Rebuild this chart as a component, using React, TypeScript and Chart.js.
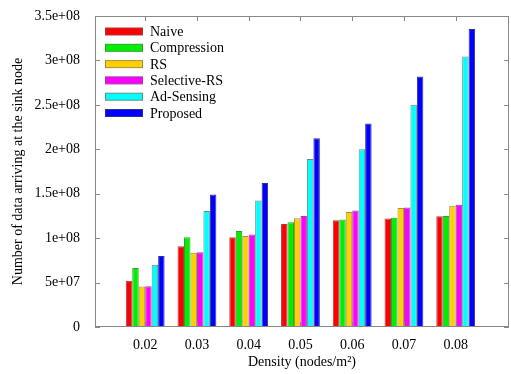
import React, { useEffect, useRef } from "react";
import { Chart, registerables } from "chart.js";

Chart.register(...registerables);

const densities = [0.02, 0.03, 0.04, 0.05, 0.06, 0.07, 0.08];
const seriesNames = ["Naive", "Compression", "RS", "Selective-RS", "Ad-Sensing", "Proposed"];
const naive = [5.2e7, 9.1e7, 1.01e8, 1.16e8, 1.2e8, 1.22e8, 1.245e8];
const compression = [6.65e7, 1.01e8, 1.08e8, 1.18e8, 1.21e8, 1.23e8, 1.25e8];
const rs = [4.55e7, 8.35e7, 1.025e8, 1.225e8, 1.295e8, 1.34e8, 1.365e8];
const selectiveRs = [4.6e7, 8.4e7, 1.04e8, 1.25e8, 1.31e8, 1.345e8, 1.375e8];
const adSensing = [7.0e7, 1.305e8, 1.425e8, 1.89e8, 2.0e8, 2.5e8, 3.045e8];
const proposed = [8.0e7, 1.49e8, 1.62e8, 2.125e8, 2.29e8, 2.82e8, 3.355e8];
const colors = ["#ff0000", "#00ee00", "#ffd000", "#ff00ff", "#00ffff", "#0000ff"];
const borders = ["#a04040", "#30a030", "#a09040", "#a040a0", "#609090", "#303090"];

const FONT = "'Liberation Serif', 'Times New Roman', serif";

function fmtExp(v: number): string {
  if (v === 0) return "0";
  const [m, e] = v.toExponential().split("e");
  const sign = e[0] === "-" ? "-" : "+";
  const digits = e.replace(/[+-]/, "").padStart(2, "0");
  return `${m}e${sign}${digits}`;
}

const framePlugin = {
  id: "frame",
  afterDatasetsDraw(chart: any) {
    const { ctx, chartArea: a, scales } = chart;
    ctx.save();
    ctx.strokeStyle = "#888888";
    ctx.lineWidth = 1;
    ctx.strokeRect(a.left + 0.5, a.top + 0.5, a.right - a.left - 1, a.bottom - a.top - 1);
    ctx.beginPath();
    const tl = 5;
    scales.y.ticks.forEach((t: any) => {
      const y = Math.round(scales.y.getPixelForValue(t.value)) + 0.5;
      ctx.moveTo(a.left, y);
      ctx.lineTo(a.left + tl, y);
      ctx.moveTo(a.right, y);
      ctx.lineTo(a.right - tl, y);
    });
    scales.x.ticks.forEach((t: any) => {
      const x = Math.round(scales.x.getPixelForValue(t.value)) + 0.5;
      ctx.moveTo(x, a.bottom);
      ctx.lineTo(x, a.bottom - tl);
      ctx.moveTo(x, a.top);
      ctx.lineTo(x, a.top + tl);
    });
    ctx.stroke();

    // legend
    ctx.font = `14px ${FONT}`;
    ctx.textBaseline = "middle";
    ctx.textAlign = "left";
    chart.data.datasets.forEach((ds: any, i: number) => {
      const cy = a.top + 15.5 + i * 16.3;
      ctx.fillStyle = ds.backgroundColor;
      ctx.fillRect(a.left + 10, cy - 3.5, 38, 7);
      ctx.strokeStyle = ds.borderColor;
      ctx.strokeRect(a.left + 10.5, cy - 3.5, 37, 7);
      ctx.fillStyle = "#000";
      ctx.fillText(ds.label, a.left + 55, cy + 1);
    });
    ctx.restore();
  },
};

export default function App() {
  const ref = useRef<HTMLCanvasElement>(null);
  useEffect(() => {
    document.body.style.margin = "0";
    const all = [naive, compression, rs, selectiveRs, adSensing, proposed];
    const chart = new Chart(ref.current!, {
      type: "bar",
      data: {
        datasets: all.map((vals, i) => ({
          label: seriesNames[i],
          data: vals.map((v, j) => ({ x: densities[j], y: v })),
          backgroundColor: colors[i],
          borderColor: borders[i],
          borderWidth: 1,
          categoryPercentage: 0.75,
          barPercentage: 1,
        })),
      },
      options: {
        responsive: false,
        animation: false,
        events: [],
        layout: { padding: { top: 16, right: 2, left: 0, bottom: 0 } },
        plugins: { legend: { display: false }, tooltip: { enabled: false } },
        scales: {
          x: {
            type: "linear",
            min: 0.0103,
            max: 0.0903,
            offset: false,
            grid: { display: false, drawTicks: false },
            border: { display: false },
            afterBuildTicks: (s: any) => {
              s.ticks = densities.map((d) => ({ value: d }));
            },
            ticks: {
              padding: 10,
              color: "#000",
              font: { family: FONT, size: 14 },
              callback: (v: any) => Number(v).toFixed(2),
              maxRotation: 0,
              autoSkip: false,
            },
            title: {
              display: true,
              text: "Density (nodes/m²)",
              color: "#000",
              font: { family: FONT, size: 14 },
              padding: { top: 0, bottom: 3 },
            },
            afterFit: (s: any) => {
              s.height = 47;
              s.paddingLeft = 0;
              s.paddingRight = 0;
            },
          },
          y: {
            min: 0,
            max: 3.5e8,
            grid: { display: false, drawTicks: false },
            border: { display: false },
            ticks: {
              stepSize: 5e7,
              padding: 15,
              color: "#000",
              font: { family: FONT, size: 14 },
              callback: (v: any) => fmtExp(Number(v)),
            },
            title: {
              display: true,
              text: "Number of data arriving at the sink node",
              color: "#000",
              font: { family: FONT, size: 14 },
              padding: { top: 10, bottom: 0 },
            },
            afterFit: (s: any) => {
              s.width = 95;
              s.paddingTop = 0;
              s.paddingBottom = 0;
            },
          },
        },
      },
      plugins: [framePlugin],
    } as any);
    return () => chart.destroy();
  }, []);
  return <canvas ref={ref} width={511} height={374} style={{ display: "block" }} />;
}
